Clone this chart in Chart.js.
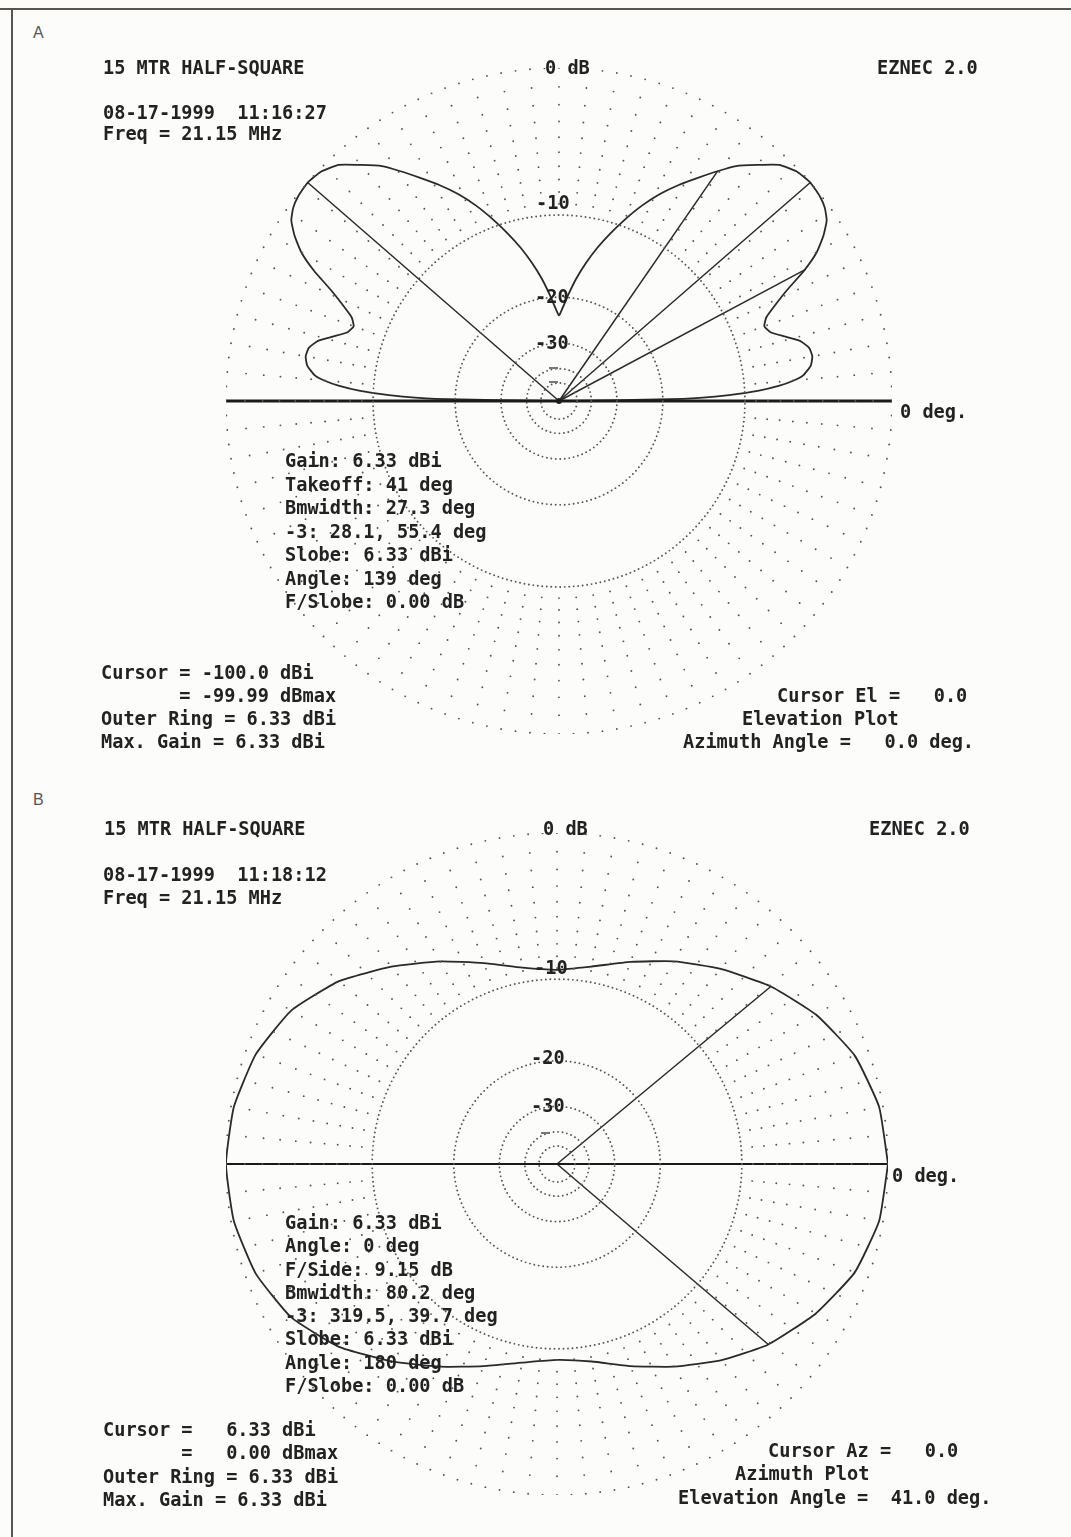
<!DOCTYPE html>
<html>
<head>
<meta charset="utf-8">
<script src="https://cdn.jsdelivr.net/npm/chart.js@4.4.0/dist/chart.umd.min.js"></script>
<style>
  body { margin: 0; background: #fcfcfa; }
  #page { position: relative; width: 1071px; height: 1537px; overflow: hidden; }
  .t { position: absolute; font-family: "DejaVu Sans Mono", monospace; font-weight: bold;
       font-size: 18.6px; line-height: 20px; color: #222; white-space: pre; }
  .fig { position: absolute; font-family: "Liberation Sans", sans-serif; font-size: 16px; color: #555; }
  .dash { position: absolute; height: 1.5px; width: 9px; background: #777; }
  .frame { position: absolute; background: #5a5450; }
  canvas { position: absolute; }
</style>
</head>
<body>
<div id="page">
  <div class="frame" style="left:0;top:8px;width:1071px;height:2px"></div>
  <div class="frame" style="left:11px;top:8px;width:1.5px;height:1529px"></div>

  <div class="fig" style="left:33px;top:24px">A</div>
  <div class="fig" style="left:33px;top:791px">B</div>

  <canvas id="elev" width="686" height="686" style="left:216px;top:58px"></canvas>
  <canvas id="azim" width="682" height="682" style="left:216px;top:823px"></canvas>

  <!-- plot A text -->
  <div class="t" style="left:103px;top:58px">15 MTR HALF-SQUARE</div>
  <div class="t" style="left:545px;top:58px">0 dB</div>
  <div class="t" style="left:877px;top:58px">EZNEC 2.0</div>
  <div class="t" style="left:103px;top:103px">08-17-1999  11:16:27</div>
  <div class="t" style="left:103px;top:124px">Freq = 21.15 MHz</div>
  <div class="t" style="left:536px;top:193px">-10</div>
  <div class="t" style="left:535px;top:287px">-20</div>
  <div class="t" style="left:535px;top:333px">-30</div>
  <div class="dash" style="left:549px;top:367px"></div>
  <div class="dash" style="left:549px;top:381px"></div>
  <div class="t" style="left:900px;top:402px">0 deg.</div>
  <div class="t" style="left:285px;top:449px;line-height:23.5px">Gain: 6.33 dBi
Takeoff: 41 deg
Bmwidth: 27.3 deg
-3: 28.1, 55.4 deg
Slobe: 6.33 dBi
Angle: 139 deg
F/Slobe: 0.00 dB</div>
  <div class="t" style="left:101px;top:661px;line-height:23px">Cursor = -100.0 dBi
       = -99.99 dBmax
Outer Ring = 6.33 dBi
Max. Gain = 6.33 dBi</div>
  <div class="t" style="left:777px;top:686px">Cursor El =   0.0</div>
  <div class="t" style="left:742px;top:709px">Elevation Plot</div>
  <div class="t" style="left:683px;top:732px">Azimuth Angle =   0.0 deg.</div>

  <!-- plot B text -->
  <div class="t" style="left:104px;top:819px">15 MTR HALF-SQUARE</div>
  <div class="t" style="left:543px;top:819px">0 dB</div>
  <div class="t" style="left:869px;top:819px">EZNEC 2.0</div>
  <div class="t" style="left:103px;top:865px">08-17-1999  11:18:12</div>
  <div class="t" style="left:103px;top:888px">Freq = 21.15 MHz</div>
  <div class="t" style="left:534px;top:958px">-10</div>
  <div class="t" style="left:531px;top:1048px">-20</div>
  <div class="t" style="left:531px;top:1096px">-30</div>
  <div class="dash" style="left:541px;top:1132px"></div>
  <div class="t" style="left:892px;top:1166px">0 deg.</div>
  <div class="t" style="left:285px;top:1211px;line-height:23.3px">Gain: 6.33 dBi
Angle: 0 deg
F/Side: 9.15 dB
Bmwidth: 80.2 deg
-3: 319.5, 39.7 deg
Slobe: 6.33 dBi
Angle: 180 deg
F/Slobe: 0.00 dB</div>
  <div class="t" style="left:103px;top:1418px;line-height:23.3px">Cursor =   6.33 dBi
       =   0.00 dBmax
Outer Ring = 6.33 dBi
Max. Gain = 6.33 dBi</div>
  <div class="t" style="left:768px;top:1441px">Cursor Az =   0.0</div>
  <div class="t" style="left:735px;top:1464px">Azimuth Plot</div>
  <div class="t" style="left:678px;top:1488px">Elevation Angle =  41.0 deg.</div>
</div>

<script>
// elevation pattern (plot A), gain in dBi vs elevation angle
const elevAngle = [0, 1, 2, 3, 4, 5, 6, 8, 10, 12, 14, 16, 18, 20, 22, 24, 26, 28, 30, 32, 34, 36, 38, 41,
  44, 47, 50, 53, 55.4, 58, 61, 64, 67, 70, 73, 76, 79, 82, 85, 88, 90,
  92, 95, 98, 101, 104, 107, 110, 113, 116, 119, 122, 124.6, 127, 130, 133, 136, 139,
  142, 144, 146, 148, 150, 152, 154, 156, 158, 160, 162, 164, 166, 168, 170, 172, 174, 175, 176, 177, 178, 179, 180];
const elevGain = [-100, -10.7, -5.2, -2.4, -0.7, 0.4, 1.1, 1.7, 1.9, 1.8, 1.3, 0.3, -0.6, -0.9, -0.5, 0.5, 1.7, 3.2, 4.4, 5.2, 5.8, 6.1, 6.25, 6.33,
  6.2, 5.8, 5.0, 4.2, 3.3, 2.3, 1.2, 0.0, -1.4, -3.0, -4.7, -6.5, -8.5, -10.7, -13.2, -15.7, -17.0,
  -15.7, -13.2, -10.7, -8.5, -6.5, -4.7, -3.0, -1.4, 0.0, 1.2, 2.3, 3.3, 4.2, 5.0, 5.8, 6.2, 6.33,
  6.25, 6.1, 5.8, 5.2, 4.4, 3.2, 1.7, 0.5, -0.5, -0.9, -0.6, 0.3, 1.3, 1.8, 1.9, 1.7, 1.1, 0.4, -0.7, -2.4, -5.2, -10.7, -100];
// cursor lines: angle and dB below max
const elevMarkAngle = [41, 28.1, 55.4, 139];
const elevMarkDb = [0, -3, -3, 0];

// azimuth pattern (plot B) at 41 deg elevation
const azAngle = [0, 10, 20, 30, 39.7, 50, 60, 70, 80, 90, 100, 110, 120, 130, 140, 150, 160, 170, 180,
  190, 200, 210, 220, 230, 240, 250, 260, 270, 280, 290, 300, 310, 319.5, 330, 340, 350, 360];
const azGain = [6.33, 6.13, 5.58, 4.58, 3.33, 1.83, 0.38, -1.07, -2.27, -2.82, -2.37, -1.17, 0.38, 2.03, 3.73, 5.03, 5.78, 6.18, 6.33,
  6.18, 5.78, 5.03, 3.73, 2.03, 0.38, -1.07, -2.17, -2.67, -2.27, -1.07, 0.38, 1.93, 3.33, 4.58, 5.58, 6.13, 6.33];
const azMarkAngle = [39.7, 319.5];
const azMarkDb = [-3, -3];

const maxGain = 6.33;
const ringLevels = [0, -1, -2, -3, -4, -5, -6, -7, -8, -9, -10, -20, -30, -40, -50];

// ARRL log scale
function radius(rel) { return Math.pow(0.89, -rel / 2); }
function polar(angle, rel) {
  const r = radius(rel), a = angle * Math.PI / 180;
  return { x: r * Math.cos(a), y: r * Math.sin(a) };
}

function ringDots(R) {
  const pts = [];
  ringLevels.forEach(function(lvl) {
    let step;
    if (lvl === 0) step = 2.5;
    else if (lvl % 10 === 0) step = Math.max(1.25, 4.5 / (radius(lvl) * R) * 180 / Math.PI);
    else step = 5;
    for (let a = 0; a < 360; a += step) pts.push(polar(a, lvl));
  });
  return pts;
}

function polarChart(id, R, angles, gains, markAngle, markDb, centerDot) {
  const datasets = [];
  datasets.push({
    data: ringDots(R), pointRadius: 0.95, pointBackgroundColor: '#555',
    pointBorderWidth: 0, showLine: false
  });
  datasets.push({
    data: [polar(180, 0), polar(0, 0)], showLine: true, pointRadius: 0,
    borderColor: '#1a1a1a', borderWidth: centerDot ? 2.8 : 2.2
  });
  markAngle.forEach(function(a, i) {
    datasets.push({
      data: [{ x: 0, y: 0 }, polar(a, markDb[i])], showLine: true, pointRadius: 0,
      borderColor: '#2a2a2a', borderWidth: 1.5
    });
  });
  datasets.push({
    data: angles.map(function(a, i) { return polar(a, gains[i] - maxGain); }),
    showLine: true, pointRadius: 0, borderColor: '#2a2a2a', borderWidth: 1.8, tension: 0.15
  });
  if (centerDot) {
    datasets.push({ data: [{ x: 0, y: 0 }], pointRadius: 3, pointBackgroundColor: '#222', pointBorderWidth: 0 });
  }
  new Chart(document.getElementById(id), {
    type: 'scatter',
    data: { datasets: datasets },
    options: {
      responsive: false, animation: false, events: [],
      layout: { padding: 10 },
      plugins: { legend: { display: false }, tooltip: { enabled: false } },
      scales: {
        x: { type: 'linear', min: -1, max: 1, display: false },
        y: { type: 'linear', min: -1, max: 1, display: false }
      }
    }
  });
}

polarChart('elev', 333, elevAngle, elevGain, elevMarkAngle, elevMarkDb, true);
polarChart('azim', 331, azAngle, azGain, azMarkAngle, azMarkDb, false);
</script>
</body>
</html>
